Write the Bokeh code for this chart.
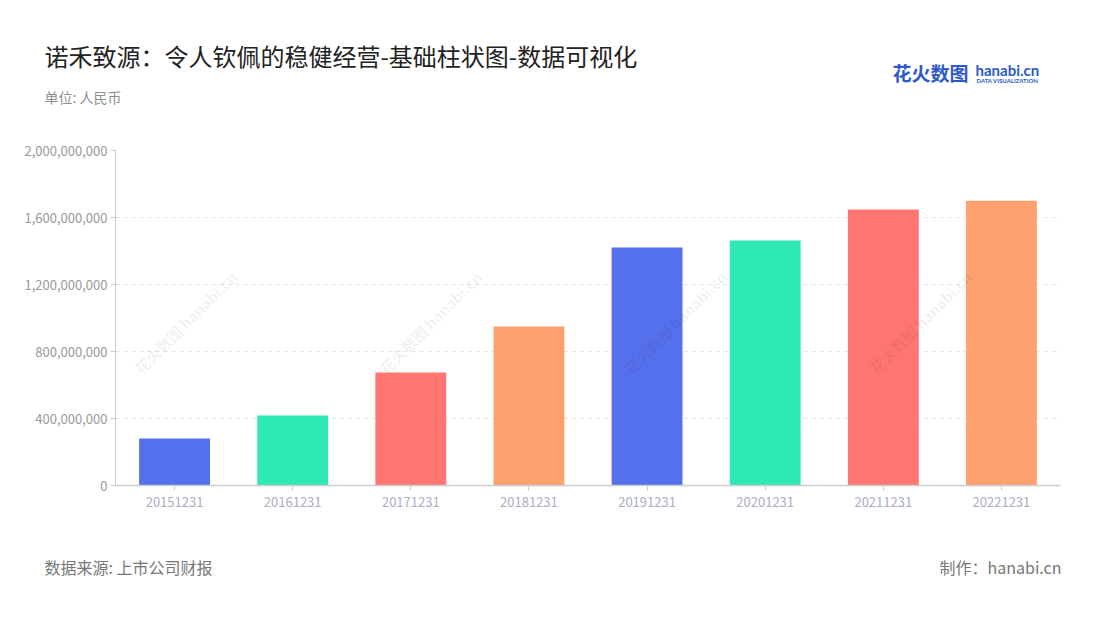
from bokeh.plotting import figure
from bokeh.layouts import column, row
from bokeh.models import (ColumnDataSource, FixedTicker, NumeralTickFormatter, Range1d)
from bokeh.core.properties import value
from bokeh.embed import file_html
from bokeh.resources import INLINE
import math

categories = ["20151231", "20161231", "20171231", "20181231",
              "20191231", "20201231", "20211231", "20221231"]
values = [280e6, 418e6, 675e6, 949e6, 1421e6, 1463e6, 1648e6, 1700e6]
colors = ["#5570ED", "#2EE8B6", "#FF7570", "#FFA06F",
          "#5570ED", "#2EE8B6", "#FF7570", "#FFA06F"]
y_ticks = [0, 400e6, 800e6, 1200e6, 1600e6, 2000e6]

title_text = "诺禾致源：令人钦佩的稳健经营-基础柱状图-数据可视化"
unit_text = "单位: 人民币"
source_text = "数据来源: 上市公司财报"
credit_text = "制作：hanabi.cn"
logo_cn = "花火数图"
logo_en = "hanabi.cn"
logo_sub = "DATA VISUALIZATION"
watermark = "花火数图 hanabi.cn"

FONT = "Noto Sans CJK SC"
W = 1100
HEAD_H, MAIN_H, FOOT_H = 130, 410, 80
L, R, T, B = 115, 40, 20, 55   # main frame: x 115..1060, y 150..485 (page)

# watermark centres (page pixels) - the row that lies fully inside the plot area
wm_x = [185, 430, 675, 920]
wm_y = [322]


def blank_fig(h, y0, y1):
    f = figure(width=W, height=h, x_range=Range1d(0, W), y_range=Range1d(y1, y0),
               output_backend="svg", toolbar_location=None,
               x_axis_type=None, y_axis_type=None,
               min_border=0, min_border_left=0, min_border_right=0,
               min_border_top=0, min_border_bottom=0)
    f.outline_line_color = None
    f.grid.grid_line_color = None
    f.background_fill_color = "white"
    f.border_fill_color = "white"
    return f


# ---------- header ----------
head = blank_fig(HEAD_H, 0, HEAD_H)
head.text(x=[44], y=[55], text=[title_text], text_font=value(FONT),
          text_font_size="24px", text_color="#222222",
          text_align="left", text_baseline="middle")
head.text(x=[44], y=[96], text=[unit_text], text_font=value(FONT),
          text_font_size="14px", text_color="#8F8F8F",
          text_align="left", text_baseline="middle")
head.text(x=[892], y=[72], text=[logo_cn], text_font=value(FONT),
          text_font_size="19px", text_font_style="bold", text_color="#2C5AC8",
          text_align="left", text_baseline="middle")
head.text(x=[975], y=[69], text=[logo_en], text_font=value("Lato"),
          text_font_size="15px", text_font_style="bold", text_color="#2C5AC8",
          text_align="left", text_baseline="middle")
head.text(x=[976], y=[80], text=[logo_sub], text_font=value("Lato"),
          text_font_size="6px", text_font_style="bold", text_color="#2C5AC8",
          text_align="left", text_baseline="middle")

# ---------- main chart ----------
src = ColumnDataSource(dict(cat=categories, val=values, color=colors))

p = figure(x_range=categories, y_range=Range1d(0, 2000e6), width=W, height=MAIN_H,
           output_backend="svg", toolbar_location=None,
           min_border_left=L, min_border_right=R, min_border_top=T, min_border_bottom=B)
p.outline_line_color = None
p.background_fill_color = "white"
p.border_fill_color = "white"

p.vbar(x="cat", top="val", width=0.6, color="color", source=src, line_color=None)

p.yaxis.ticker = FixedTicker(ticks=y_ticks)
p.yaxis.formatter = NumeralTickFormatter(format="0,0")
p.yaxis.axis_line_color = "#CCCCCC"
p.yaxis.major_tick_line_color = "#CCCCCC"
p.yaxis.major_tick_in = 0
p.yaxis.major_tick_out = 5
p.yaxis.minor_tick_line_color = None
p.yaxis.major_label_text_color = "#999999"
p.yaxis.major_label_text_font = FONT
p.yaxis.major_label_text_font_size = "13px"
p.yaxis.major_label_standoff = 3

p.xaxis.axis_line_color = "#CCCCCC"
p.xaxis.axis_line_width = 1.5
p.xaxis.major_tick_line_color = "#CCCCCC"
p.xaxis.major_tick_in = 0
p.xaxis.major_tick_out = 5
p.xaxis.major_label_text_color = "#A9AEC0"
p.xaxis.major_label_text_font = FONT
p.xaxis.major_label_text_font_size = "13px"
p.xaxis.major_label_standoff = 6

p.xgrid.grid_line_color = None
p.ygrid.grid_line_color = "#E3E3E3"
p.ygrid.grid_line_dash = "4 4"
p.ygrid.grid_line_width = 1.2

# watermarks in main frame: map page pixel coords to data coords
frame_top, frame_bot = 150, 485
n = len(categories)
wx, wy = [], []
for yy in wm_y:
    for xx in wm_x:
        wx.append((xx - L) / (W - L - R) * n)
        wy.append((frame_bot - yy) / (frame_bot - frame_top) * 2000e6)
p.text(x=wx, y=wy, text=[watermark] * len(wx), angle=math.pi / 4,
       text_font=value(FONT), text_font_size="15px", text_font_style="bold",
       text_color="#000000", text_alpha=0.06,
       text_align="center", text_baseline="middle")

# ---------- footer ----------
foot = blank_fig(FOOT_H, HEAD_H + MAIN_H, HEAD_H + MAIN_H + FOOT_H)
foot.text(x=[44], y=[566], text=[source_text], text_font=value(FONT),
          text_font_size="16px", text_color="#777777",
          text_align="left", text_baseline="middle")
foot.text(x=[1061], y=[566], text=[credit_text], text_font=value(FONT),
          text_font_size="16px", text_color="#777777",
          text_align="right", text_baseline="middle")

layout = column(row(head), p, row(foot), spacing=0)
html = file_html(layout, INLINE)
open("out.html", "w").write(html)
